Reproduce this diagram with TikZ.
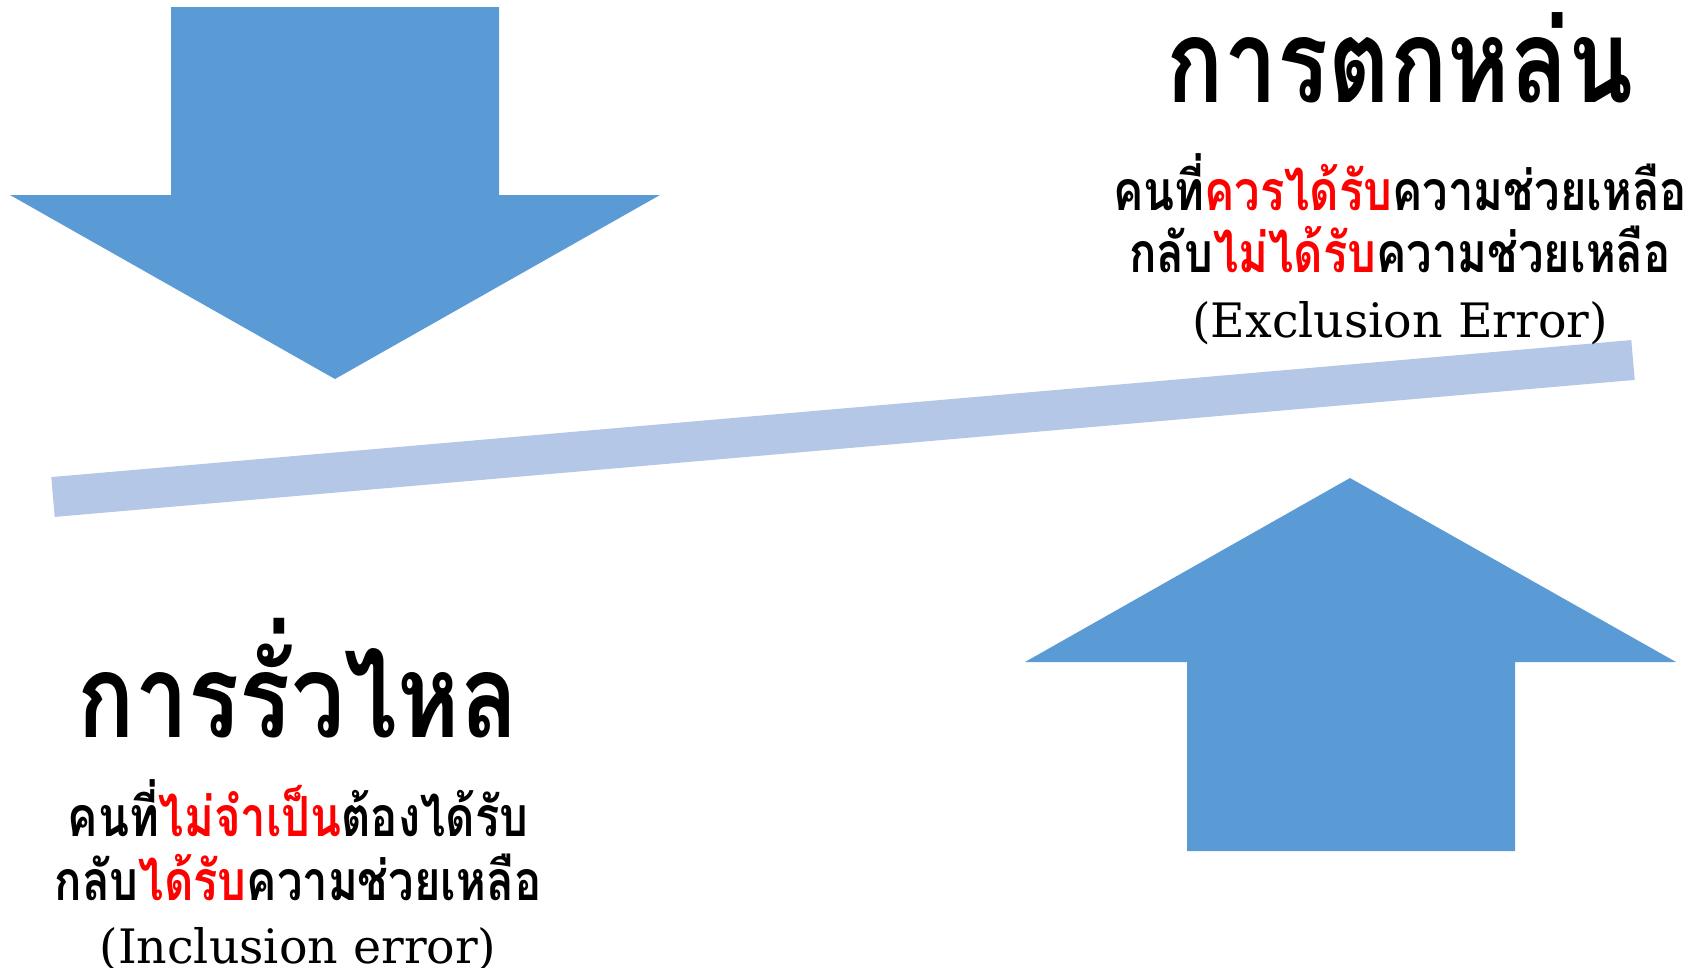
\documentclass[tikz,border=0pt]{standalone}
\usepackage{fontspec}
\usetikzlibrary{calc}
\newfontfamily\thaifont[Script=Thai,FakeStretch=0.82]{Loma}
\newfontfamily\latinfont{DejaVu Serif}
\definecolor{arrowblue}{HTML}{5B9BD5}
\definecolor{barblue}{HTML}{B4C7E7}
\tikzset{
  headline/.style={anchor=base, font=\thaifont\bfseries\fontsize{66}{72}\selectfont},
  bodyline/.style={anchor=base, font=\thaifont\bfseries\fontsize{31.5}{38}\selectfont},
  engline/.style={anchor=base, font=\latinfont\fontsize{27}{32}\selectfont}
}

\begin{document}
\begin{tikzpicture}[x=0.02cm,y=-0.02cm]

\useasboundingbox (0,0) rectangle (1687,967);

% down arrow (top left)
\coordinate (D1) at (171,7);
\coordinate (D2) at (499,7);
\coordinate (D3) at (499,195);
\coordinate (D4) at (660,195);
\coordinate (D5) at (335,379);
\coordinate (D6) at (10,195);
\coordinate (D7) at (171,195);
\fill[arrowblue] (D1)--(D2)--(D3)--(D4)--(D5)--(D6)--(D7)--cycle;

% up arrow (bottom right)
\coordinate (U1) at (1187,851);
\coordinate (U2) at (1515,851);
\coordinate (U3) at (1515,662);
\coordinate (U4) at (1676,662);
\coordinate (U5) at (1350,478);
\coordinate (U6) at (1025,662);
\coordinate (U7) at (1187,662);
\fill[arrowblue] (U1)--(U2)--(U3)--(U4)--(U5)--(U6)--(U7)--cycle;

% the tilted bar
\coordinate (barL) at (53,497);
\coordinate (barR) at (1633,360);
\draw[barblue,line width=0.8cm] (barL)--(barR);

% exclusion error
\node[headline] (exTitle) at (1400,102) {การตกหล่น};
\node[bodyline] (exLineA) at (1400,210) {คนที่\textcolor{red}{ควรได้รับ}ความช่วยเหลือ};
\node[bodyline] (exLineB) at (1400,272) {กลับ\textcolor{red}{ไม่ได้รับ}ความช่วยเหลือ};
\node[engline] (exLineC) at (1400,337) {(Exclusion Error)};

% inclusion error
\node[headline] (inTitle) at (298,737) {การรั่วไหล};
\node[bodyline] (inLineA) at (298,836) {คนที่\textcolor{red}{ไม่จำเป็น}ต้องได้รับ};
\node[bodyline] (inLineB) at (298,900) {กลับ\textcolor{red}{ได้รับ}ความช่วยเหลือ};
\node[engline] (inLineC) at (298,963) {(Inclusion error)};

\end{tikzpicture}
\end{document}
